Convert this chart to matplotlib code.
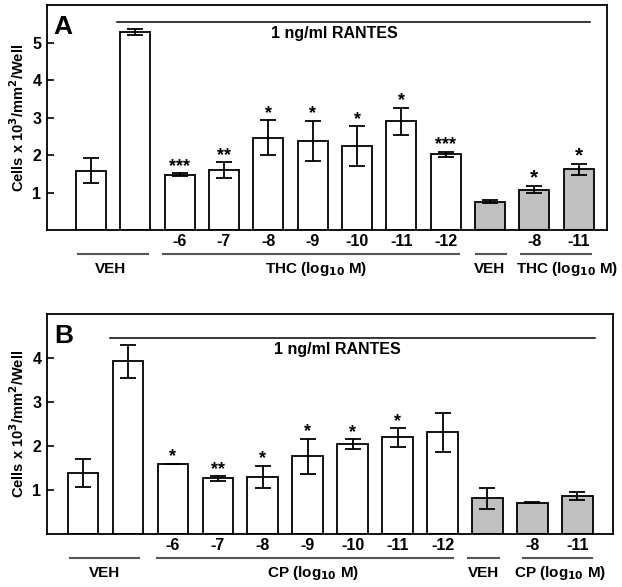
import matplotlib
matplotlib.use("Agg")
import matplotlib.pyplot as plt
from matplotlib.transforms import blended_transform_factory, offset_copy
import numpy as np

plt.rcParams['font.family'] = ['Liberation Sans', 'DejaVu Sans']
plt.rcParams['font.weight'] = 'bold'

# ---- data ----
tick_labels = ["", "", "-6", "-7", "-8", "-9", "-10", "-11", "-12", "", "-8", "-11"]
fill_colors = ["white"] * 9 + ["#c0c0c0"] * 3

a_values = [1.58, 5.29, 1.48, 1.60, 2.46, 2.38, 2.24, 2.90, 2.02, 0.76, 1.08, 1.62]
a_errors = [0.33, 0.07, 0.03, 0.21, 0.47, 0.53, 0.53, 0.36, 0.06, 0.03, 0.10, 0.14]
a_stars = ["", "", "***", "**", "*", "*", "*", "*", "***", "", "*", "*"]

b_values = [1.39, 3.93, 1.60, 1.27, 1.30, 1.77, 2.05, 2.20, 2.32, 0.82, 0.72, 0.86]
b_errors = [0.32, 0.37, 0.0, 0.05, 0.25, 0.40, 0.11, 0.21, 0.44, 0.24, 0.02, 0.09]
b_stars = ["", "", "*", "**", "*", "*", "*", "*", "", "", "", ""]

# (label, line start, line end, label centre)
a_groups = [("VEH", -0.30, 1.28, 0.45), ("THC (log$_{\\mathbf{10}}$ M)", 1.63, 8.30, 5.09),
            ("VEH", 8.68, 9.37, 8.99), ("THC (log$_{\\mathbf{10}}$ M)", 9.69, 11.28, 10.74)]
b_groups = [("VEH", -0.28, 1.25, 0.47), ("CP (log$_{\\mathbf{10}}$ M)", 1.64, 8.23, 5.12),
            ("VEH", 8.57, 9.26, 8.91), ("CP (log$_{\\mathbf{10}}$ M)", 9.78, 11.32, 10.61)]

fig = plt.figure(figsize=(6.22, 5.87), dpi=100)
W, H = 622, 587

def make_panel(rect, values, errors, stars, groups, ymax, yticks, xlim,
               letter, rantes_x, rantes_y, text_xy, star_sizes):
    ax = fig.add_axes(rect)
    x = np.arange(len(values))
    ax.bar(x, values, width=0.68, color=fill_colors, edgecolor="black",
           linewidth=1.3, zorder=2)
    ax.errorbar(x, values, yerr=errors, fmt="none", ecolor="black",
                elinewidth=1.3, capsize=6, capthick=1.3, zorder=3)
    for xi, v, e, s in zip(x, values, errors, stars):
        if s:
            fs = star_sizes[1] if fill_colors[xi] != "white" else star_sizes[0]
            ax.annotate(s, (xi, v + e), xytext=(0, -1), textcoords="offset points",
                        ha="center", va="bottom", fontsize=fs, fontweight="bold")
    ax.set_xlim(*xlim)
    ax.set_ylim(0, ymax)
    ax.set_yticks(yticks)
    ax.set_yticklabels([str(t) for t in yticks], fontsize=11.5, fontweight="bold")
    ax.tick_params(axis="y", direction="in", length=5, width=1.2, pad=4)
    ax.set_xticks(x)
    ax.set_xticklabels(tick_labels, fontsize=11.5, fontweight="bold")
    ax.tick_params(axis="x", length=0, pad=3)
    for sp in ax.spines.values():
        sp.set_linewidth(1.3)
    ax.set_ylabel("Cells x 10$^{\\mathbf{3}}$/mm$^{\\mathbf{2}}$/Well", fontsize=10.5,
                  fontweight="bold", labelpad=4)
    # RANTES line
    ax.plot(rantes_x, [rantes_y, rantes_y], color="black", linewidth=1.1)
    ax.text(text_xy[0], text_xy[1], "1 ng/ml RANTES", ha="center", va="center",
            fontsize=11.5, fontweight="bold")
    ax.text(0.012, 0.955, letter, transform=ax.transAxes, ha="left", va="top",
            fontsize=19, fontweight="bold")
    # groups below axis
    tr = blended_transform_factory(ax.transData, ax.transAxes)
    tr_line = offset_copy(tr, fig=fig, y=-23.5, units="dots")
    tr_text = offset_copy(tr, fig=fig, y=-39, units="dots")
    for label, x0, x1, xc in groups:
        ax.plot([x0, x1], [0, 0], transform=tr_line, color="#555555",
                linewidth=1.5, clip_on=False)
        ax.text(xc, 0, label, transform=tr_text, ha="center",
                va="center", fontsize=11, fontweight="bold")
    return ax

axA = make_panel([47 / W, 1 - 230 / H, (606.7 - 47) / W, (230 - 5.3) / H],
                 a_values, a_errors, a_stars, a_groups, 6.0, [1, 2, 3, 4, 5],
                 (-0.99, 11.63), "A", [0.58, 11.25], 5.55, (5.5, 5.24), (13, 15))
axB = make_panel([47 / W, 1 - 534.3 / H, (613.3 - 47) / W, (534.3 - 314.3) / H],
                 b_values, b_errors, b_stars, b_groups, 5.0, [1, 2, 3, 4],
                 (-0.80, 11.8), "B", [0.60, 11.39], 4.47, (5.65, 4.19), (13, 15))

fig.savefig("out.png", dpi=100)
